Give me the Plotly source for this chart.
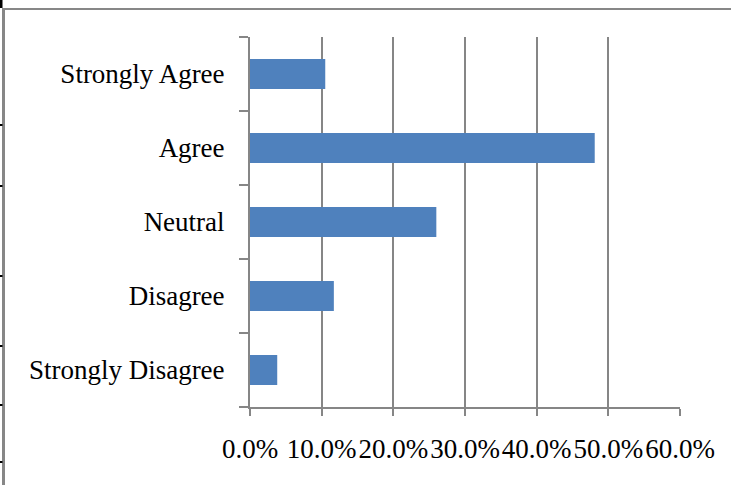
import plotly.graph_objects as go

# Survey responses, listed bottom to top as they appear on the chart
categories = ["Strongly Disagree", "Disagree", "Neutral", "Agree", "Strongly Agree"]
shares = [0.038, 0.117, 0.260, 0.481, 0.105]

x_ticks = [0.0, 0.1, 0.2, 0.3, 0.4, 0.5, 0.6]

W, H = 731, 485
M_L, M_R, M_T, M_B = 250, 51, 37, 78
PLOT_W = W - M_L - M_R
PLOT_H = H - M_T - M_B

BAR_BLUE = "#4F81BD"
AXIS_GRAY = "#868686"
FONT = "Liberation Serif, Times New Roman, serif"
FONT_SIZE = 27


def px_x(px):
    """Pixel column -> paper x."""
    return (px - M_L) / PLOT_W


def px_y(py):
    """Pixel row -> paper y."""
    return (H - M_B - py) / PLOT_H


fig = go.Figure(
    go.Bar(
        x=shares,
        y=categories,
        orientation="h",
        marker=dict(color=BAR_BLUE, line=dict(width=0)),
        hovertemplate="%{y}: %{x:.1%}<extra></extra>",
    )
)

# Outer chart frame plus the small sheet-gridline stubs along the left edge
shapes = [
    dict(type="line", xref="paper", yref="paper",
         x0=px_x(3.5), x1=px_x(3.5), y0=px_y(9), y1=px_y(H + 2),
         line=dict(color="#878787", width=3)),
    dict(type="line", xref="paper", yref="paper",
         x0=px_x(2), x1=px_x(W + 2), y0=px_y(9), y1=px_y(9),
         line=dict(color="#878787", width=2)),
    dict(type="line", xref="paper", yref="paper",
         x0=px_x(1), x1=px_x(1), y0=px_y(-1), y1=px_y(8),
         line=dict(color="black", width=3)),
]
for row in [125, 186, 276, 346, 405, 462]:
    shapes.append(
        dict(type="line", xref="paper", yref="paper",
             x0=px_x(-1), x1=px_x(2.5), y0=px_y(row), y1=px_y(row),
             line=dict(color="black", width=2))
    )

fig.update_layout(
    width=W,
    height=H,
    margin=dict(l=M_L, r=M_R, t=M_T, b=M_B, pad=0),
    paper_bgcolor="white",
    plot_bgcolor="white",
    bargap=0.595,
    showlegend=False,
    font=dict(family=FONT, size=FONT_SIZE, color="black"),
    shapes=shapes,
    xaxis=dict(
        range=[0, 0.6],
        tickvals=x_ticks,
        tickformat=".1%",
        tickangle=0,
        showgrid=True,
        gridcolor=AXIS_GRAY,
        gridwidth=1.5,
        zeroline=False,
        showline=True,
        linecolor=AXIS_GRAY,
        linewidth=2,
        ticks="outside",
        ticklen=7,
        tickwidth=1.5,
        tickcolor=AXIS_GRAY,
        ticklabelstandoff=10,
        tickfont=dict(family=FONT, size=FONT_SIZE, color="black"),
    ),
    yaxis=dict(
        type="category",
        categoryorder="array",
        categoryarray=categories,
        tickson="boundaries",
        showgrid=False,
        zeroline=False,
        showline=True,
        linecolor=AXIS_GRAY,
        linewidth=2,
        ticks="outside",
        ticklen=9,
        tickwidth=1.5,
        tickcolor=AXIS_GRAY,
        ticklabelstandoff=18,
        tickfont=dict(family=FONT, size=FONT_SIZE, color="black"),
    ),
)

fig.write_html("out.html")
